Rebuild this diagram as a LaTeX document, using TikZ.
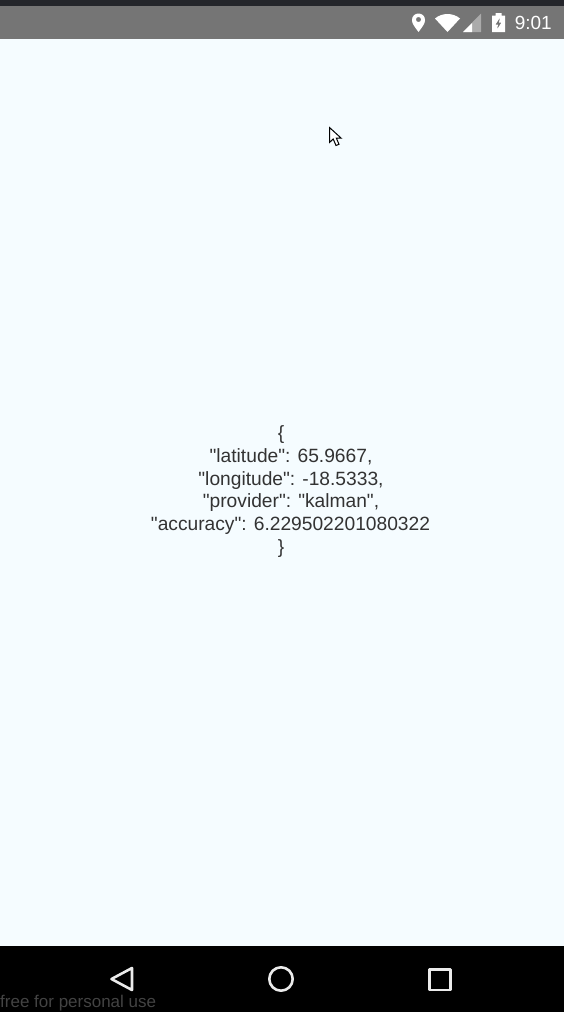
\documentclass[tikz,border=0pt]{standalone}
\usepackage{fontspec}
\newfontfamily\plainsans{Liberation Sans}
\setmainfont{Liberation Sans}
\definecolor{screenbg}{HTML}{F5FCFF}
\definecolor{statusbar}{HTML}{757575}
\definecolor{topstrip}{HTML}{24262B}
\definecolor{bodytext}{HTML}{333333}
\definecolor{signaldim}{HTML}{ABABAB}
\definecolor{wmark}{HTML}{434343}
\tikzset{
  navicon/.style={draw=white!92!black,line width=2.6pt,line join=round},
  bodyline/.style={anchor=base,inner sep=0pt,text=bodytext,font=\plainsans\fontsize{19.2}{22}\selectfont},
}
\begin{document}
\begin{tikzpicture}[x=1pt,y=-1pt]
\useasboundingbox (0,0) rectangle (564,1012);
\fill[screenbg] (0,0) rectangle (564,1012);
\fill[statusbar] (0,6) rectangle (564,39);
\fill[topstrip] (0,0) rectangle (564,6);
\fill[black] (0,946) rectangle (564,1012);
% status icons
\fill[white,even odd rule] (418.5,32) .. controls (414,26) and (412,23.5) .. (412,20) .. controls (412,16) and (415,13.5) .. (418.5,13.5) .. controls (422,13.5) and (425,16) .. (425,20) .. controls (425,23.5) and (423,26) .. (418.5,32) -- cycle (418.5,19.5) circle (2.6);
\fill[white] (435,18.5) .. controls (442,12.5) and (453,12.5) .. (460,18.5) -- (447.5,32) -- cycle;
\fill[signaldim] (481,13.5) -- (481,32) -- (463,32) -- cycle;
\fill[white] (472,23) -- (472,32) -- (463,32) -- cycle;
\fill[white,even odd rule] (492,15.5) -- (495.5,15.5) -- (495.5,13) -- (501.5,13) -- (501.5,15.5) -- (505,15.5) -- (505,32) -- (492,32) -- cycle
  (500,17.5) -- (495.5,24.5) -- (498,24.5) -- (497,29.5) -- (501.5,22.5) -- (499,22.5) -- cycle;
\node[anchor=base east,inner sep=0pt,text=white,font=\fontsize{19}{22}\selectfont] (clock) at (552,29.5) {9:01};
% cursor
\filldraw[fill=white,draw=black,line width=1pt,line join=miter] (329.5,127.5) -- (329.5,142.5) -- (333.2,139) -- (336,145.5) -- (339,144.3) -- (336.3,138) -- (341,138) -- cycle;
% body text
\node[bodyline] (l1) at (281,439.5) {\{};
\node[bodyline] (l2) at (291,462.5) {"latitude": 65.9667,};
\node[bodyline] (l3) at (291,485) {"longitude": -18.5333,};
\node[bodyline] (l4) at (291,507.5) {"provider": "kalman",};
\node[bodyline] (l5) at (290.5,530) {"accuracy": 6.229502201080322};
\node[bodyline] (l6) at (281,553) {\}};
% nav bar
\draw[navicon] (111.5,979) -- (132,968) -- (132,990) -- cycle;
\draw[navicon] (281,979) circle (11.7);
\draw[navicon] (429.5,969.5) rectangle (450.5,990);
\node[anchor=base west,inner sep=0pt,text=wmark,font=\fontsize{17}{20}\selectfont] (wm) at (0,1007) {free for personal use};
\end{tikzpicture}
\end{document}
